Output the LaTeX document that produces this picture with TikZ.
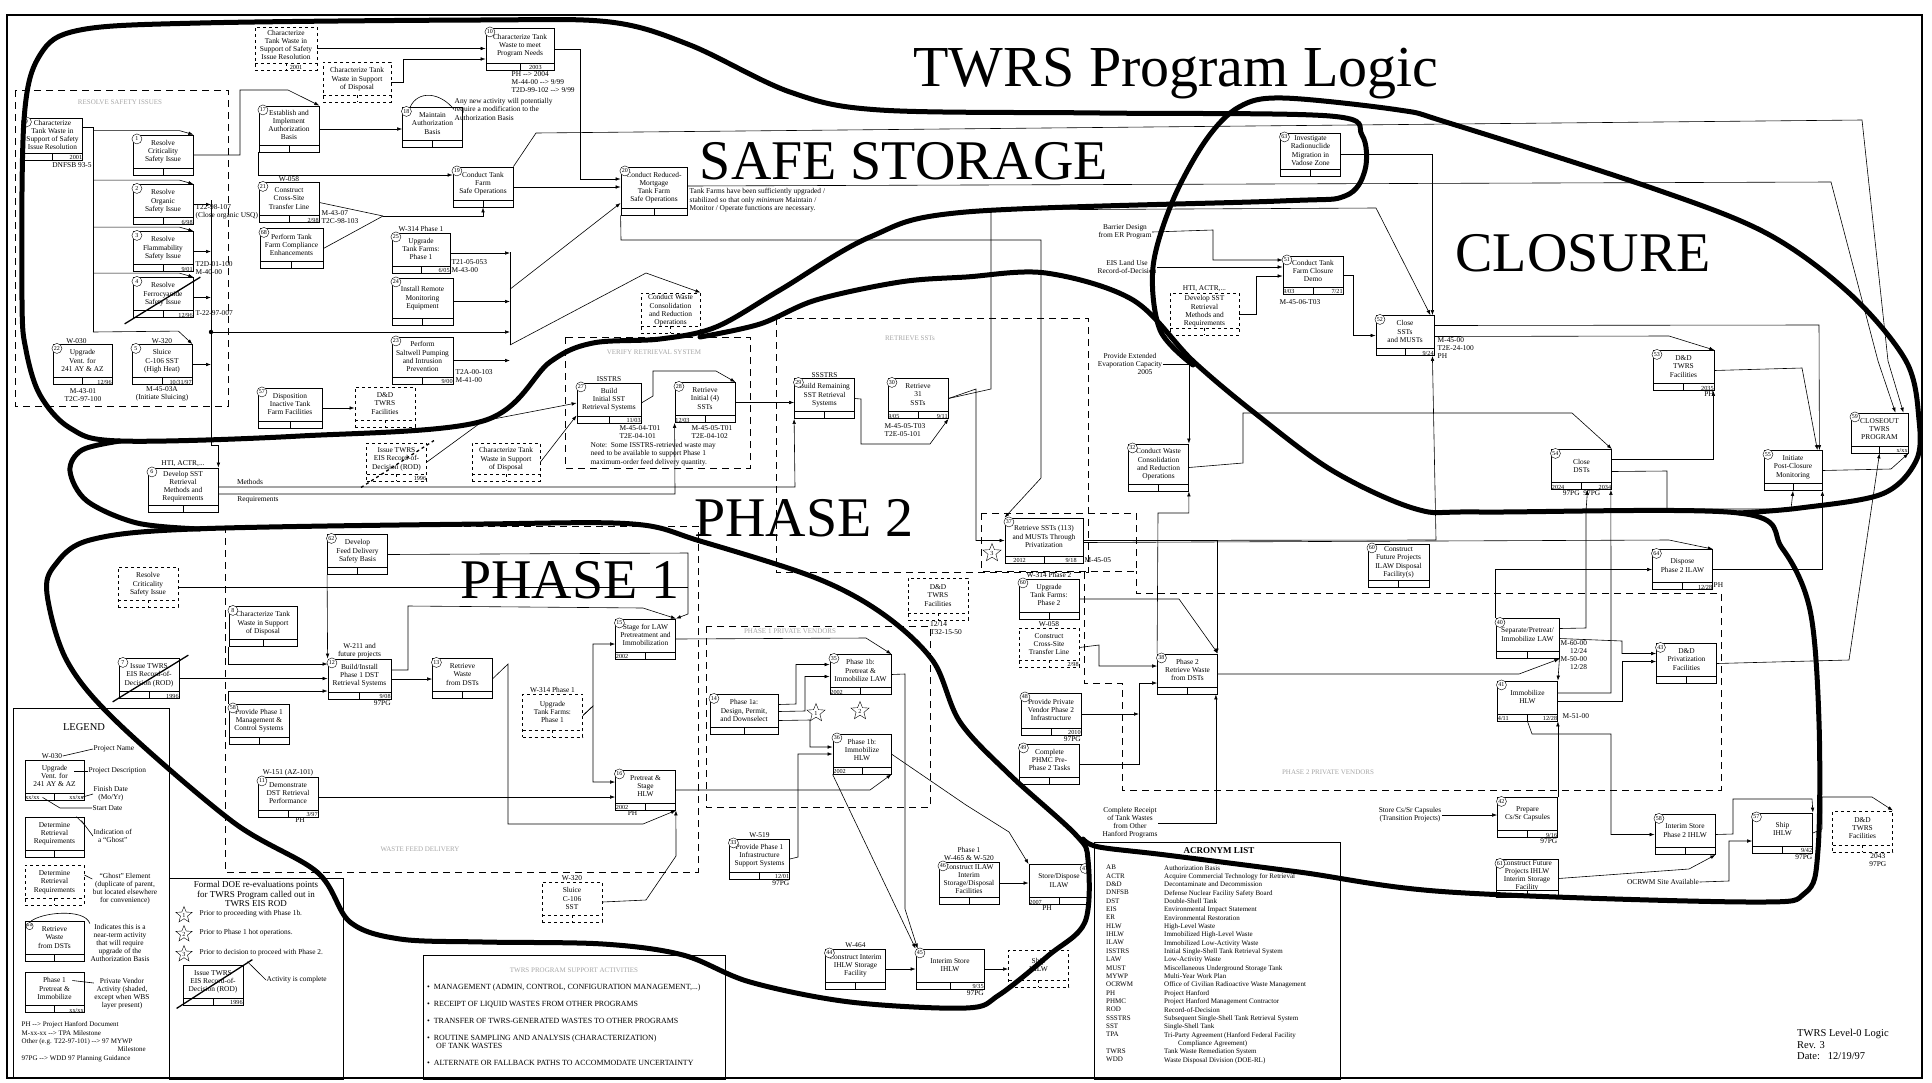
\documentclass[tikz,border=0pt]{standalone}
\usepackage{fontspec}
\setmainfont{Liberation Serif}
\usetikzlibrary{positioning, arrows.meta, shapes.geometric, calc}
\newcommand{\boxfont}{\fontsize{7.4}{8.1}\selectfont}
\newcommand{\smfont}{\fontsize{6.2}{7}\selectfont}
\newcommand{\numfont}{\fontsize{6}{6}\selectfont}
\newcommand{\bigfont}{\fontsize{56}{60}\selectfont}

\begin{document}
\begin{tikzpicture}[
  x=1pt, y=-1pt,
  act/.style={draw, line width=0.8pt, minimum width=60pt, minimum height=40pt, inner sep=0.5pt,
    align=center, font=\boxfont, text depth=8pt,
    path picture={\draw ([yshift=7pt]path picture bounding box.south west) -- ([yshift=7pt]path picture bounding box.south east);
      \draw ([yshift=7pt]path picture bounding box.south) -- (path picture bounding box.south);}},
  ghost/.style={draw, dashed, line width=0.9pt, minimum width=60pt, minimum height=40pt, inner sep=0.5pt,
    align=center, font=\boxfont, text depth=7pt,
    path picture={\draw[dashed] ([yshift=7pt]path picture bounding box.south west) -- ([yshift=7pt]path picture bounding box.south east);
      \draw ([yshift=7pt]path picture bounding box.south) -- (path picture bounding box.south);}},
  num/.style={circle, draw, fill=white, inner sep=0pt, minimum size=10pt, font=\numfont, xshift=8pt, yshift=-8pt},
  dt/.style={font=\smfont, inner sep=0.6pt},
  note/.style={font=\boxfont, align=center, inner sep=0.5pt},
  zone/.style={line width=0.9pt, dash pattern=on 7pt off 5pt},
  faded/.style={text=black!35, font=\fontsize{7}{8}\selectfont},
  outline/.style={line width=5pt, line join=round, line cap=round},
  conn/.style={line width=0.6pt, -{Latex[length=5pt,width=3.6pt]}},
  wire/.style={line width=0.6pt},
  big/.style={font=\bigfont, inner sep=0pt},
  done/.style={line width=1.3pt},
  evstar/.style={star, star points=5, star point ratio=2.3, draw, minimum size=19pt, inner sep=0pt, font=\smfont},
]
\useasboundingbox (0,0) rectangle (1932,1082);
\draw[line width=1.4pt] (7,15) rectangle (1922,1078);

% titles
\node[big, font=\fontsize{58}{60}\selectfont] (title) at (1176,74) {TWRS Program Logic};
\node[big] (lsafe) at (904,161) {SAFE STORAGE};
\node[big] (lclos) at (1583,253) {CLOSURE};
\node[big] (lph2) at (804,518) {PHASE 2};
\node[big] (lph1) at (570,580) {PHASE 1};

% dashed work areas
\draw[zone] (15,90) rectangle (228,406);
\draw[zone] (565,337) rectangle (750,468);
\draw[zone] (776,318) rectangle (1088,572);
\draw[zone] (981,513) rectangle (1136,571);
\draw[zone] (1084,572) -- (1084,683) -- (1122,683) -- (1122,790) -- (1721,790) -- (1721,593) -- (1136,593) -- (1136,571);
\draw[zone] (225,526) rectangle (698,872);
\draw[zone] (706,626) rectangle (930,807);
\node[faded] at (120,102) {RESOLVE SAFETY ISSUES};
\node[faded] at (654,352) {VERIFY RETRIEVAL SYSTEM};
\node[faded] at (910,338) {RETRIEVE SSTs};
\node[faded] at (420,849) {WASTE FEED DELIVERY};
\node[faded] at (790,631) {PHASE 1 PRIVATE VENDORS};
\node[faded] at (1328,772) {PHASE 2 PRIVATE VENDORS};

% safe storage activities
\node[act, minimum height=42pt, label={[num]north west:9}] (s9) at (52.5,139) {Characterize\\Tank Waste in\\Support of Safety\\Issue Resolution};
\node[dt, anchor=south east] at (s9.south east) {2001};
\node[note] at (72,165) {DNFSB 93-5};
\node[ghost, minimum width=62pt, minimum height=43pt] (g1) at (286,48.5) {Characterize\\Tank Waste in\\Support of Safety\\Issue Resolution};
\node[dt, anchor=south] at ([xshift=10pt]g1.south) {2001};
\node[ghost, minimum width=68pt] (g2) at (357,82) {Characterize Tank\\Waste in Support\\of Disposal};
\node[act, minimum width=68pt, minimum height=42pt, label={[num]north west:10}] (s10) at (520,49) {Characterize Tank\\Waste to meet\\Program Needs};
\node[dt, anchor=south east] at ([xshift=-12pt]s10.south east) {2003};
\node[note, anchor=north west, align=left] at (511,71) {PH -{}-> 2004\\M-44-00 -{}-> 9/99\\T2D-99-102 -{}-> 9/99};
\node[act, label={[num]north west:1}] (s1) at (163,155) {Resolve\\Criticality\\Safety Issue};
\node[act, label={[num]north west:2}] (s2) at (163,204.5) {Resolve\\Organic\\Safety Issue};
\node[dt, anchor=south east] at (s2.south east) {6/98};
\node[act, label={[num]north west:3}] (s3) at (163,251.5) {Resolve\\Flammability\\Safety Issue};
\node[dt, anchor=south east] at (s3.south east) {9/01};
\node[act, label={[num]north west:4}] (s4) at (163,297.5) {Resolve\\Ferrocyanide\\Safety Issue};
\node[dt, anchor=south east] at (s4.south east) {12/96};
\node[note, anchor=west, align=left] at (195,212) {T22-98-107\\(Close organic USQ)};
\node[note, anchor=west, align=left] at (195,268) {T2D-01-100\\M-40-00};
\node[note, anchor=west] at (195,313) {T-22-97-007};
\node[act, minimum width=59pt, label={[num]north west:22}] (s22) at (82.5,364.5) {Upgrade\\Vent. for\\241 AY \& AZ};
\node[note, anchor=south] at ([xshift=-6pt]s22.north) {W-030};
\node[dt, anchor=south east] at (s22.south east) {12/96};
\node[note] at (83,395) {M-43-01\\T2C-97-100};
\node[act, label={[num]north west:5}] (s5) at (162,364.5) {Sluice\\C-106 SST\\(High Heat)};
\node[note, anchor=south] at (s5.north) {W-320};
\node[dt, anchor=south east] at (s5.south east) {10/31/97};
\node[note] at (162,394) {M-45-03A\\(Initiate Sluicing)};
\node[act, minimum height=46pt, label={[num]north west:17}] (s17) at (289,129) {Establish and\\Implement\\Authorization\\Basis};
\node[act, label={[num]north west:18}] (s18) at (432.5,127.5) {Maintain\\Authorization\\Basis};
\node[note, anchor=north west, align=left] (anynew) at (454,98) {Any new activity will potentially\\require a modification to the\\Authorization Basis};
\node[act, label={[num]north west:19}] (s19) at (483,187) {Conduct Tank\\Farm\\Safe Operations};
\node[act, label={[num]north west:21}] (s21) at (289,202.5) {Construct\\Cross-Site\\Transfer Line};
\node[note, anchor=south] at (s21.north) {W-058};
\node[dt, anchor=south east] at (s21.south east) {2/98};
\node[note, anchor=west, align=left] at (321,217) {M-43-07\\T2C-98-103};
\node[act, minimum width=63pt, label={[num]north west:68}] (s68) at (291.5,248.5) {Perform Tank\\Farm Compliance\\Enhancements};
\node[act, minimum width=58pt, label={[num]north west:25}] (s25) at (421,253) {Upgrade\\Tank Farms:\\Phase 1};
\node[note, anchor=south] at (s25.north) {W-314 Phase 1};
\node[dt, anchor=south east] at (s25.south east) {6/05};
\node[note, anchor=west, align=left] at (451,266) {T21-05-053\\M-43-00};
\node[act, minimum width=61pt, minimum height=47pt, label={[num]north west:24}] (s24) at (422.5,301.5) {Install Remote\\Monitoring\\Equipment};
\node[act, minimum width=61pt, minimum height=47pt, label={[num]north west:23}] (s23) at (422.5,360.5) {Perform\\Saltwell Pumping\\and Intrusion\\Prevention};
\node[dt, anchor=south east] at (s23.south east) {9/00};
\node[note, anchor=west, align=left] at (455,376) {T2A-00-103\\M-41-00};
\node[act, minimum width=66pt, minimum height=48pt, label={[num]north west:20}] (s20) at (654,191) {Conduct Reduced-\\Mortgage\\Tank Farm\\Safe Operations};
\node[note, anchor=north west, align=left] at (689,188) {Tank Farms have been sufficiently upgraded /\\stabilized so that only \emph{minimum} Maintain /\\Monitor / Operate functions are necessary.};
\node[ghost, minimum width=59pt] (gcw) at (670.5,313) {Conduct Waste\\Consolidation\\and Reduction\\Operations};
\node[act, minimum width=64pt, label={[num]north west:57}] (s57) at (290,408) {Disposition\\Inactive Tank\\Farm Facilities};
\node[ghost] (gdd1) at (385,407) {D\&D\\TWRS\\Facilities};
\node[act, minimum height=43pt, label={[num]north west:63}] (s63) at (1310.5,154.5) {Investigate\\Radionuclide\\Migration in\\Vadose Zone};

% retrieval and closure activities
\node[act, minimum width=70pt, minimum height=44pt, label={[num]north west:6}] (s6) at (183,490) {Develop SST\\Retrieval\\Methods and\\Requirements};
\node[note, anchor=south] at (s6.north) {HTI, ACTR,...};
\node[note] at (250,482) {Methods};
\node[note] at (258,500) {Requirements};
\node[ghost, minimum height=38pt] (gI1) at (396.5,462) {Issue TWRS\\EIS Record-of-\\Decision (ROD)};
\node[dt, anchor=south east] at (gI1.south east) {1996};
\node[ghost, minimum width=68pt, minimum height=38pt] (gc2) at (506,462) {Characterize Tank\\Waste in Support\\of Disposal};
\node[act, minimum width=64pt, label={[num]north west:27}] (s27) at (609,403) {Build\\Initial SST\\Retrieval Systems};
\node[note, anchor=south] at (s27.north) {ISSTRS};
\node[dt, anchor=south east] at (s27.south east) {11/03};
\node[note, align=left] at (640,432) {M-45-04-T01\\T2E-04-101};
\node[act, label={[num]north west:28}] (s28) at (705,402.5) {Retrieve\\Initial (4)\\SSTs};
\node[dt, anchor=south west] at (s28.south west) {12/03};
\node[note, align=left] at (712,432) {M-45-05-T01\\T2E-04-102};
\node[note, anchor=north west, align=left] at (590,442) {Note:\ \ Some ISSTRS-retrieved waste may\\need to be available to support Phase 1\\maximum-order feed delivery quantity.};
\node[act, label={[num]north west:29}] (s29) at (824.5,398.5) {Build Remaining\\SST Retrieval\\Systems};
\node[note, anchor=south] at (s29.north) {SSSTRS};
\node[act, label={[num]north west:30}] (s30) at (918,398.5) {Retrieve\\31\\SSTs};
\node[dt, anchor=south west] at (s30.south west) {9/05};
\node[dt, anchor=south east] at (s30.south east) {9/11};
\node[note, align=left] at (905,430) {M-45-05-T03\\T2E-05-101};
\node[act, minimum height=47pt, label={[num]north west:32}] (s32) at (1158.5,467.5) {Conduct Waste\\Consolidation\\and Reduction\\Operations};
\node[act, minimum width=78pt, minimum height=45pt, label={[num]north west:37}] (s37) at (1044,540.5) {Retrieve SSTs (113)\\and MUSTs Through\\Privatization};
\node[dt, anchor=south west] at ([xshift=8pt]s37.south west) {2012};
\node[dt, anchor=south east] at ([xshift=-6pt]s37.south east) {9/18};
\node[note, anchor=west] at (1084,560) {M-45-05};
\node[act, label={[num]north west:60}] (s60) at (1049,599) {Upgrade\\Tank Farms:\\Phase 2};
\node[note, anchor=south] at (s60.north) {W-314 Phase 2};
\node[ghost, minimum height=39pt] (g58) at (1049,647.5) {Construct\\Cross-Site\\Transfer Line};
\node[note, anchor=south] at (g58.north) {W-058};
\node[dt, anchor=south east] at (g58.south east) {2/98};
\node[act, label={[num]north west:38}] (s38) at (1187.5,674) {Phase 2\\Retrieve Waste\\from DSTs};
\node[act, minimum width=61pt, minimum height=43pt, label={[num]north west:60}] (s62b) at (1398.5,565.5) {Construct\\Future Projects\\ILAW Disposal\\Facility(s)};
\node[act, minimum height=42pt, label={[num]north west:48}] (s48) at (1051,714) {Provide Private\\Vendor Phase 2\\Infrastructure};
\node[dt, anchor=south east] at (s48.south east) {2010};
\node[note, anchor=north east] at (s48.south east) {97PG};
\node[act, label={[num]north west:49}] (s49) at (1049.5,764) {Complete\\PHMC Pre-\\Phase 2 Tasks};
\node[act, label={[num]north west:54}] (s54) at (1581.5,469.5) {Close\\DSTs};
\node[dt, anchor=south west] at (s54.south west) {2024};
\node[dt, anchor=south east] at (s54.south east) {2034};
\node[note, anchor=north] at (s54.south) {97PG\ \ 97PG};
\node[act, minimum width=58pt, label={[num]north west:55}] (s55) at (1793,470.5) {Initiate\\Post-Closure\\Monitoring};
\node[act, minimum width=57pt, label={[num]north west:59}] (s59) at (1879.5,433) {CLOSEOUT\\TWRS\\PROGRAM};
\node[dt, anchor=south east] at (s59.south east) {x/xx};
\node[act, minimum width=61pt, label={[num]north west:53}] (s53) at (1683.5,370.5) {D\&D\\TWRS\\Facilities};
\node[dt, anchor=south east] at (s53.south east) {2035};
\node[note, anchor=north east] at (s53.south east) {PH};
\node[act, minimum width=58pt, label={[num]north west:52}] (s52) at (1405,335.5) {Close\\SSTs\\and MUSTs};
\node[dt, anchor=south east] at (s52.south east) {9/24};
\node[note, anchor=north west, align=left] at (1437,337) {M-45-00\\T2E-24-100\\PH};
\node[act, minimum height=38pt, label={[num]north west:51}] (s51) at (1313,275) {Conduct Tank\\Farm Closure\\Demo};
\node[dt, anchor=south west] at (s51.south west) {9/03};
\node[dt, anchor=south east] at (s51.south east) {7/21};
\node[note] at (1300,302) {M-45-06-T03};
\node[ghost, minimum width=69pt, minimum height=42pt] (ghtl) at (1204.5,314) {Develop SST\\Retrieval\\Methods and\\Requirements};
\node[note, anchor=south] at (ghtl.north) {HTI, ACTR,...};
\node[note] (barrier) at (1125,232) {Barrier Design\\from ER Program};
\node[note] (eisland) at (1127,267) {EIS Land Use\\Record-of-Decision};
\node[note] (evap) at (1130,364) {Provide Extended\\Evaporation Capacity\\\hspace*{30pt}2005};
\node[act, label={[num]north west:64}] (s64) at (1682.5,569.5) {Dispose\\Phase 2 ILAW};
\node[dt, anchor=south east] at (s64.south east) {12/28};
\node[note, anchor=west] at (1713,585) {PH};
\node[act, minimum width=63pt, label={[num]north west:40}] (s40) at (1527.5,638.5) {Separate/Pretreat/\\Immobilize LAW};
\node[note, anchor=north west, align=right] at (1560,640) {M-60-00\\12/24\\M-50-00\\12/28};
\node[act, label={[num]north west:41}] (s41) at (1527.5,701) {Immobilize\\HLW};
\node[dt, anchor=south west] at (s41.south west) {4/11};
\node[dt, anchor=south east] at (s41.south east) {12/28};
\node[note, anchor=west] at (1562,716) {M-51-00};
\node[act, label={[num]north west:43}] (s43) at (1686.5,663.5) {D\&D\\Privatization\\Facilities};

% phase 1 activities
\node[act, label={[num]north west:62}] (s62) at (357.5,554.5) {Develop\\Feed Delivery\\Safety Basis};
\node[ghost] (gcr) at (148,587) {Resolve\\Criticality\\Safety Issue};
\node[act, minimum width=68pt, label={[num]north west:8}] (s8) at (263,626.5) {Characterize Tank\\Waste in Support\\of Disposal};
\node[act, label={[num]north west:7}] (s7) at (149,678.5) {Issue TWRS\\EIS Record-of-\\Decision (ROD)};
\node[dt, anchor=south east] at (s7.south east) {1996};
\node[act, minimum width=63pt, label={[num]north west:12}] (s12) at (359.5,679) {Build/Install\\Phase 1 DST\\Retrieval Systems};
\node[note, anchor=south] at (s12.north) {W-211 and\\future projects};
\node[dt, anchor=south east] at (s12.south east) {9/08};
\node[note, anchor=north east] at (s12.south east) {97PG};
\node[act, label={[num]north west:13}] (s13) at (462.5,678.5) {Retrieve\\Waste\\from DSTs};
\node[act, label={[num]north west:58}] (s58) at (259,724) {Provide Phase 1\\Management \&\\Control Systems};
\node[act, label={[num]north west:11}] (s11) at (288,797) {Demonstrate\\DST Retrieval\\Performance};
\node[note, anchor=south] at (s11.north) {W-151 (AZ-101)};
\node[dt, anchor=south east] at (s11.south east) {3/97};
\node[note, anchor=north] at ([xshift=12pt]s11.south) {PH};
\node[act, label={[num]north west:15}] (s15) at (645.5,639) {Stage for LAW\\Pretreatment and\\Immobilization};
\node[dt, anchor=south west] at (s15.south west) {2002};
\node[ghost, minimum height=43pt] (gU1) at (552.5,715.5) {Upgrade\\Tank Farms:\\Phase 1};
\node[note, anchor=south] at (gU1.north) {W-314 Phase 1};
\node[act, label={[num]north west:16}] (s16) at (645.5,790) {Pretreat \&\\Stage\\HLW};
\node[dt, anchor=south west] at (s16.south west) {2002};
\node[note, anchor=north] at ([xshift=-13pt]s16.south) {PH};
\node[ghost] (gW320) at (572,902) {Sluice\\C-106\\SST};
\node[note, anchor=south] at (gW320.north) {W-320};
\node[act, minimum width=68pt, label={[num]north west:14}] (s14) at (744,714.5) {Phase 1a:\\Design, Permit,\\and Downselect};
\node[act, minimum width=61pt, label={[num]north west:35}] (s35) at (860.5,674.5) {Phase 1b:\\Pretreat \&\\Immobilize LAW};
\node[dt, anchor=south west] at (s35.south west) {2002};
\node[act, minimum width=58pt, label={[num]north west:36}] (s36) at (862,754) {Phase 1b:\\Immobilize\\HLW};
\node[dt, anchor=south west] at (s36.south west) {2002};
\node[evstar] (st1) at (816,713) {1};
\node[evstar] (st2) at (860,711) {2};
\node[evstar] (st3) at (992,553) {3};
\node[ghost, minimum height=42pt] (gdd2) at (938,599) {D\&D\\TWRS\\Facilities};
\node[note, anchor=north, align=left] at ([xshift=8pt]gdd2.south) {12/14\\T32-15-50};
\node[act, label={[num]north west:33}] (s33) at (759.5,859) {Provide Phase 1\\Infrastructure\\Support Systems};
\node[note, anchor=south] at (s33.north) {W-519};
\node[dt, anchor=south east] at (s33.south east) {12/01};
\node[note, anchor=north east] at (s33.south east) {97PG};
\node[act, label={[num]north west:44}] (s44) at (855.5,969) {Construct Interim\\IHLW Storage\\Facility};
\node[note, anchor=south] at (s44.north) {W-464};
\node[act, minimum width=68pt, label={[num]north west:45}] (s45) at (950,969) {Interim Store\\IHLW};
\node[dt, anchor=south east] at (s45.south east) {9/35};
\node[note, anchor=north east] at (s45.south east) {97PG};
\node[act, minimum height=42pt, label={[num]north west:46}] (s46) at (969,883) {Construct ILAW\\Interim\\Storage/Disposal\\Facilities};
\node[note, anchor=south] at (s46.north) {Phase 1\\W-465 \& W-520};
\node[act, label={[num, xshift=-16pt]north east:47}] (s47) at (1059,884.5) {Store/Dispose\\ILAW};
\node[dt, anchor=south west] at (s47.south west) {2007};
\node[note, anchor=north] at ([xshift=-12pt]s47.south) {PH};
\node[ghost, minimum height=37pt] (gship) at (1038.5,968.5) {Ship\\IHLW};
\node[act, label={[num]north west:42}] (s42) at (1527.5,817.5) {Prepare\\Cs/Sr Capsules};
\node[dt, anchor=south east] at (s42.south east) {9/16};
\node[note, anchor=north east] at (s42.south east) {97PG};
\node[act, label={[num]north west:58}] (s58b) at (1685,834.5) {Interim Store\\Phase 2 IHLW};
\node[act, label={[num]north west:57}] (s57b) at (1782.5,833) {Ship\\IHLW};
\node[dt, anchor=south east] at (s57b.south east) {9/42};
\node[note, anchor=north east] at (s57b.south east) {97PG};
\node[ghost, minimum height=41pt] (gdd3) at (1862.5,831.5) {D\&D\\TWRS\\Facilities};
\node[note, anchor=north east] at ([xshift=-6pt]gdd3.south east) {2043\\97PG};
\node[act, minimum width=62pt, minimum height=38pt, text depth=7pt, label={[num]north west:61}] (s61) at (1527,878.5) {Construct Future\\Projects IHLW\\Interim Storage\\Facility};
\node[note] (storecs) at (1410,815) {Store Cs/Sr Capsules\\(Transition Projects)};
\node[note] (ocrwm) at (1663,882) {OCRWM Site Available};
\node[note] (receipt) at (1130,823) {Complete Receipt\\of Tank Wastes\\from Other\\Hanford Programs};
\node[anchor=north west, align=left, font=\fontsize{10.5}{11.6}\selectfont, inner sep=0pt] at (1797,1029) {TWRS Level-0 Logic\\Rev. 3\\Date:\ \ \ 12/19/97};

% completed activities
\draw[done] ($(s4.south west)+(-8,6)$) -- ($(s4.north east)+(7,0)$);
\draw[done] ($(s7.south west)+(-6,3)$) -- ($(s7.north east)+(9,-3)$);
\draw[done, dashed] ($(gI1.south west)+(-5,6)$) -- ($(gI1.north east)+(7,-2)$);

% connectors, safe storage
\coordinate (bus9) at (93,332);
\coordinate (b2top) at (211,200);
\coordinate (bus2) at (211,332);
\coordinate (busR) at (510,252);
\coordinate (busRb) at (510,345);
\coordinate (m21) at (383,216);
\draw[conn] (g1.east) -- (g1.east -| s10.west);
\draw[conn] (g2.east) -- ++(12,0) |- ($(s10.west)+(0,10)$);
\draw[wire] ($(s9.east)+(0,-12)$) -| (bus9);
\draw[conn] ($(bus9 |- s1.north)+(0,-4)$) -- ($(s1.north east)+(-14,-4)$) -- (s1.north east);
\draw[conn] ($(bus9 |- s2.north)+(0,-4)$) -- ($(s2.north east)+(-14,-4)$) -- (s2.north east);
\draw[conn] ($(bus9 |- s3.north)+(0,-4)$) -- ($(s3.north east)+(-14,-4)$) -- (s3.north east);
\draw[conn] ($(bus9 |- s4.north)+(0,-4)$) -- ($(s4.north east)+(-14,-4)$) -- (s4.north east);
\draw[conn] (bus9) -- ($(s5.north east)+(-14,-13)$) -- (s5.north east);
\draw[conn] (b2top) |- ($(s6.north east)+(0,-22)$) -- (s6.north east);
\draw[conn] (s2.east) -- (s2.east -| b2top);
\draw[conn] (s3.east) -- (s3.east -| b2top);
\draw[conn] (s4.east) -- (s4.east -| b2top);
\draw[conn] (s5.east) -- (s5.east -| b2top);
\fill (bus2) circle (2.2pt);
\draw[conn] (bus2) -- (busR |- bus2);
\draw[conn] (s1.east) -| (240,90) -- (288,90) -- (s17.north east);
\draw[conn] (s17.east) -- (s17.east -| s18.west);
\draw[wire] ([xshift=8pt]s18.north west) .. controls (418,90) and (440,92) .. (anynew.west);
\draw[conn] (s17.south west) |- ($(s19.west)+(0,-12)$);
\draw[conn] (s10.east) -- (580,49) |- ($(s20.west)+(0,-12)$);
\draw[conn] (s19.east) -- (s19.east -| s20.west);
\draw[wire] (s21.east) -- (m21);
\draw[wire] (s68.east) -- (m21);
\draw[conn] (m21) -| (s19.south);
\draw[wire] (busR) -- (busRb);
\draw[conn] (s25.east) -- (s25.east -| busR);
\draw[conn] (s24.east) -- (s24.east -| busR);
\draw[conn] (s23.east) -- (s23.east -| busR);
\draw[conn] ($(busR)!0.4!(busRb)$) -- ($(s20.west)+(0,12)$);
\draw[conn] (busRb) -- (646,273) -- (gcw.north east);
\draw[conn] (s57.east) -- (s57.east -| gdd1.west);
\draw[conn] (s19.north east) -- (536,133) -- (1862,120) -- (1888,361) -- ($(s59.north east)+(-5,0)$);
\draw[conn] ($(s20.east)+(0,-5)$) -- (1831,182) -- (1878,361) -- ($(s59.north east)+(-13,0)$);
\draw[conn] (s20.south west) -- (621,240) -- (1041,240) -- (1041,478) -- (s37.north west);
\draw[conn] (s63.east) -| ($(s52.north east)+(-2,0)$);
\draw[conn] (s30.east) -- (991,389) -- (991,210) -- (1376,208) -- ($(s52.north east)+(-4,0)$);
\draw[conn] (s30.east) -- (976,389) |- (s37.west);

% connectors, retrieval and closure
\draw[conn] ($(s6.east)+(0,-3)$) -- (795,487) -- (s29.south west);
\draw[conn] ($(s6.east)+(0,4)$) -- (675,494) -- (s28.south west);
\draw[conn] (gI1.east) -- (483,421) -- (s27.west);
\draw[conn] (gc2.east) -- ($(s27.south west)+(0,-8)$);
\draw[conn] (s27.east) -- (653,396) -- (653,371) -- (716,371) -- (s28.north east);
\draw[conn] (s28.east) -- (s28.east -| s29.west);
\draw[conn] (s29.east) -- (861,399) -- (861,444) -- (930,444) -- (s30.south east);
\draw[conn] (barrier.east) -- (1213,230) |- ($(s51.west)+(0,-15)$);
\draw[conn] (eisland.east) -- ($(s51.west)+(0,-8)$);
\draw[conn] (ghtl.east) -- (1256,314) |- ($(s51.west)+(0,1)$);
\draw[conn] (s51.east) -- (1353,275) |- (s52.west);
\draw[conn] ($(s52.east)+(0,-10)$) -- (1819,325) -- ($(s55.north east)+(-3,0)$);
\draw[conn] ($(s52.east)+(0,1)$) -- (1669,336) -- (s53.north east);
\draw[conn] (s53.east) -- (1802,368) -- ($(s55.north east)+(-5,0)$);
\draw[conn] (s37.east) -- (1436,540) -- ($(s52.south east)+(-2,0)$);
\draw[conn] ($(s37.east)+(0,2)$) -- (1669,540) -- (s64.north east);
\draw[conn] (s37.east) -| ($(s38.north east)+(-1,0)$);
\draw[conn] (evap.east) -| (s32.north east);
\draw[conn] (s38.north west) -- (1158,513) -| (s32.south east);
\draw[conn] (s32.east) -- (1243,463) -- (1243,413) -- (1572,413) -- (s54.north east);
\draw[conn] ($(s54.east)+(0,-10)$) -| ($(s53.south east)+(-1,0)$);
\draw[conn] ($(s54.east)+(0,2)$) -- (1667,471) -- (1667,509) -- (1791,509) -- (s55.south);
\draw[conn] (s55.east) -- (1891,469) -- (s59.south east);
\draw[conn] (s43.east) -- (1849,660) -- (s59.south);
\draw[conn] (s64.east) -| (s55.south east);
\draw[conn] (s40.north west) |- (s64.west);
\draw[conn] ($(s40.east)+(0,-10)$) -- (1586,628) -- (1586,511) -- ($(s54.south)+(6,0)$);
\draw[conn] ($(s41.east)+(0,-8)$) -- (1611,693) -- ($(s54.south east)+(-1,0)$);
\draw[conn] (s40.east) -- (1622,641) |- ($(s43.west)+(0,-10)$);
\draw[conn] (s41.east) -- (1622,701) |- ($(s43.west)+(0,-2)$);
\draw[conn] (s40.south east) -- (s41.north east);
\draw[conn] (s38.east) -- (1519,674) -- (s40.south east);
\draw[conn] (s60.east) -- (1179,599) -- (s38.north east);
\draw[conn] (g58.east) -- (1099,645) |- ($(s38.west)+(0,-8)$);
\coordinate (bus38) at (1139,714);
\draw[conn] (s48.east) -- (bus38);
\draw[conn] (s49.east) -- (1139,764) -- (1139,683) -- ($(s38.west)+(0,9)$);
\draw[conn] (receipt.east) -| ($(s38.south east)+(-2,0)$);

% connectors, phase 1
\coordinate (j15) at (688,584);
\draw[wire] (gcr.east) -- (gcr.east -| j15);
\draw[conn] (s62.east) -- (688,553) -- (688,614) -- (s15.north east);
\draw[conn] (s62.south west) -- (s12.north west);
\draw[conn] (s8.south west) |- ($(s12.west)+(0,-15)$);
\draw[conn] (s7.east) -- (s7.east -| s12.west);
\draw[conn] (s58.north west) |- ($(s12.west)+(0,12)$);
\draw[conn] (s12.east) -- (s12.east -| s13.west);
\draw[conn] ($(s12.east)+(0,-9)$) -- (408,670) -- (408,606) -- (643,608) -- (s15.north east);
\draw[conn] (s13.east) -- (508,664) -- (508,824) -- (643,824) -- (s16.south east);
\draw[conn] (s11.east) -- (s11.east -| s16.west);
\draw[conn] (gU1.east) -- (593,706) |- ($(s15.west)+(0,5)$);
\draw[conn] (gU1.east) -- (593,706) |- ($(s16.west)+(0,-8)$);
\draw[conn] (gW320.east) -- (646,900) -- (676,856) -- (s16.south east);
\draw[conn] (s15.east) -- (866,638) -- (s35.north east);
\draw[conn] (s16.east) -- (870,790) -- (s36.south east);
\draw[conn] ($(s14.east)+(0,-10)$) -- (796,704) |- ($(s35.west)+(0,-10)$);
\draw[conn] ($(s14.east)+(0,-3)$) -- (805,711) |- ($(s35.west)+(0,2)$);
\draw[conn] ($(s14.east)+(0,6)$) -- (810,720) |- ($(s36.west)+(0,-7)$);
\draw[conn] (s33.east) -- (798,857) |- (s36.west);
\draw[conn] (s36.south west) -- (s45.north west);
\draw[conn] (s36.east) -- (966,805) -- (1009,832) -- (s47.north west);
\draw[conn] (s35.east) -- (905,674) -- (905,909) -- ($(s45.north west)+(2,0)$);
\draw[conn] (s44.east) -- (s44.east -| s45.west);
\draw[conn] (s46.east) -- (s46.east -| s47.west);
\draw[conn] (s45.east) -- (s45.east -| gship.west);
\draw[conn] (storecs.east) -- (storecs.east -| s42.west);
\draw[conn] (s42.north east) -- (s41.south east);
\draw[conn] (s41.south) -- (1532,734) -- (1611,734) |- (s58b.west);
\draw[conn] (s61.east) -- (1689,869) -- (s58b.south east);
\draw[conn] (s58b.east) -- (1733,834) -- (1733,799) -- (1812,799) -- (s57b.north east);
\draw[conn] (s57b.east) -- (1822,829) -- (1822,797) -- (1872,797) -- (gdd3.north east);
\draw[conn] (ocrwm.east) -- (1729,881) |- ($(s57b.west)+(0,8)$);

% legend
\node[draw, line width=0.8pt, minimum width=156pt, minimum height=370pt] (legend) at (91,893) {};
\node[font=\fontsize{10.5}{12}\selectfont] (legtitle) at (84,727) {LEGEND};
\node[note] (legw) at (52,756) {W-030};
\node[note, anchor=west] (legpn) at (93,749) {Project Name};
\draw[wire] (legw.east) -- (legpn.west);
\node[act, minimum width=59pt] (lg1) at (54.5,780) {Upgrade\\Vent. for\\241 AY \& AZ};
\node[dt, anchor=south west] at (lg1.south west) {xx/xx};
\node[dt, anchor=south east] at (lg1.south east) {xx/xx};
\node[note, anchor=west] (legpd) at (88,771) {Project Description};
\draw[wire] ($(lg1.east)+(-10,-9)$) -- (legpd.west);
\node[note, anchor=west] (legfd) at (93,794) {Finish Date\\(Mo/Yr)};
\draw[wire] ($(lg1.south east)+(-3,-3)$) -- (legfd.west);
\node[note, anchor=west] (legsd) at (92,808) {Start Date};
\draw[wire] ($(lg1.south west)+(18,-3)$) -- (60,808) -- (legsd.west);
\node[act, minimum width=59pt] (lg2) at (54.5,837) {Determine\\Retrieval\\Requirements};
\draw[wire] ($(lg2.north east)+(-8,0)$) -- ($(lg2.north east)+(0,8)$);
\node[note, anchor=west] (legghost) at (93,836) {Indication of\\a ``Ghost''};
\draw[wire] ($(lg2.north east)+(-3,4)$) -- (legghost.west);
\node[ghost, minimum width=59pt] (lg3) at (54.5,885) {Determine\\Retrieval\\Requirements};
\node[note] (legge) at (125,889) {``Ghost'' Element\\(duplicate of parent,\\but located elsewhere\\for convenience)};
\draw[wire] ($(lg3.east)+(0,-10)$) -- ($(legge.west)+(0,-10)$);
\node[act, minimum width=59pt] (lg4) at (54.5,941.5) {Retrieve\\Waste\\from DSTs};
\node[circle, draw, inner sep=0pt, minimum size=7pt, font=\numfont] (legst) at ($(lg4.north west)+(5,5)$) {**};
\node[note] (legnt) at (120,943) {Indicates this is a\\near-term activity\\that will require\\upgrade of the\\Authorization Basis};
\draw[wire] (legst.north) .. controls (40,912) and (85,908) .. (legnt.north west);
\node[act, minimum width=59pt] (lg5) at (54.5,992.5) {Phase 1\\Pretreat \&\\Immobilize};
\node[dt, anchor=south east] at (lg5.south east) {xx/xx};
\node[note] (legpv) at (122,994) {Private Vendor\\Activity (shaded,\\except when WBS\\layer present)};
\draw[wire] ($(lg5.east)+(-12,-12)$) -- ($(legpv.west)+(0,-11)$);
\node[note, anchor=north west, align=left, font=\fontsize{7}{8.4}\selectfont] (legabb) at (21,1021) {PH -{}-> Project Hanford Document\\M-xx-xx -{}-> TPA Milestone\\Other (e.g. T22-97-101) -{}-> 97 MYWP\\\hspace*{96pt}Milestone\\97PG -{}-> WDD 97 Planning Guidance};

% DOE re-evaluation points
\node[draw, line width=0.8pt, minimum width=174pt, minimum height=201pt] (doe) at (256,978.5) {};
\node[anchor=north, align=center, font=\fontsize{9}{9.7}\selectfont, inner sep=0pt] (doetitle) at (256,881) {Formal DOE re-evaluations points\\for TWRS Program called out in\\TWRS EIS ROD};
\node[evstar, minimum size=17pt] (dst1) at (184,915) {1};
\node[evstar, minimum size=17pt] (dst2) at (184,934) {2};
\node[evstar, minimum size=17pt] (dst3) at (184,954) {3};
\node[note, anchor=west] at (199,914) {Prior to proceeding with Phase 1b.};
\node[note, anchor=west] at (199,933) {Prior to Phase 1 hot operations.};
\node[note, anchor=west] at (199,953) {Prior to decision to proceed with Phase 2.};
\node[act] (doeex) at (213,985) {Issue TWRS\\EIS Record-of-\\Decision (ROD)};
\node[dt, anchor=south east] at (doeex.south east) {1996};
\draw[done] ($(doeex.south west)+(-6,3)$) -- ($(doeex.north east)+(9,-5)$);
\node[note, anchor=west] (doecomp) at (266,980) {Activity is complete};
\draw[wire] ($(doeex.north east)+(4,-3)$) -- (doecomp.west);

% support activities
\node[draw, line width=0.8pt, minimum width=302pt, minimum height=124pt] (support) at (574,1017) {};
\node[faded] at (574,970) {TWRS PROGRAM SUPPORT ACTIVITIES};
\node[anchor=west, font=\fontsize{7.9}{9}\selectfont, inner sep=0pt] at (427,988) {\textbullet\enspace MANAGEMENT (ADMIN, CONTROL, CONFIGURATION MANAGEMENT,...)};
\node[anchor=west, font=\fontsize{7.9}{9}\selectfont, inner sep=0pt] at (427,1005) {\textbullet\enspace RECEIPT OF LIQUID WASTES FROM OTHER PROGRAMS};
\node[anchor=west, font=\fontsize{7.9}{9}\selectfont, inner sep=0pt] at (427,1021) {\textbullet\enspace TRANSFER OF TWRS-GENERATED WASTES TO OTHER PROGRAMS};
\node[anchor=west, align=left, font=\fontsize{7.9}{8.6}\selectfont, inner sep=0pt] at (427,1042) {\textbullet\enspace ROUTINE SAMPLING AND ANALYSIS (CHARACTERIZATION)\\\hspace*{9pt}OF TANK WASTES};
\node[anchor=west, font=\fontsize{7.9}{9}\selectfont, inner sep=0pt] at (427,1063) {\textbullet\enspace ALTERNATE OR FALLBACK PATHS TO ACCOMMODATE UNCERTAINTY};

% acronym list
\node[draw, line width=0.8pt, minimum width=246pt, minimum height=237pt] (acro) at (1217,960.5) {};
\node[font=\bfseries\fontsize{9}{10}\selectfont] at (1219,851) {ACRONYM LIST};
\node[anchor=north west, align=left, font=\fontsize{7}{8.35}\selectfont, inner sep=0pt] (acab) at (1106,865) {AB\\ACTR\\D\&D\\DNFSB\\DST\\EIS\\ER\\HLW\\IHLW\\ILAW\\ISSTRS\\LAW\\MUST\\MYWP\\OCRWM\\PH\\PHMC\\ROD\\SSSTRS\\SST\\TPA\\[8.35pt]TWRS\\WDD};
\node[anchor=north west, align=left, font=\fontsize{7}{8.35}\selectfont, inner sep=0pt] (acdesc) at (1164,865) {Authorization Basis\\Acquire Commercial Technology for Retrieval\\Decontaminate and Decommission\\Defense Nuclear Facility Safety Board\\Double-Shell Tank\\Environmental Impact Statement\\Environmental Restoration\\High-Level Waste\\Immobilized High-Level Waste\\Immobilized Low-Activity Waste\\Initial Single-Shell Tank Retrieval System\\Low-Activity Waste\\Miscellaneous Underground Storage Tank\\Multi-Year Work Plan\\Office of Civilian Radioactive Waste Management\\Project Hanford\\Project Hanford Management Contractor\\Record-of-Decision\\Subsequent Single-Shell Tank Retrieval System\\Single-Shell Tank\\Tri-Party Agreement (Hanford Federal Facility\\\hspace*{14pt}Compliance Agreement)\\Tank Waste Remediation System\\Waste Disposal Division (DOE-RL)};

% hand drawn program phase outlines
\draw[outline] plot[smooth cycle, tension=0.55] coordinates {(22,300) (24,120) (40,55) (80,30) (200,23) (480,20) (610,22) (690,45) (790,92) (880,110) (1100,113) (1330,116) (1362,135) (1365,170) (1345,196) (1280,201) (966,212) (870,237) (780,290) (716,327) (660,339) (593,343) (550,362) (483,421) (300,436) (120,441) (70,428) (40,395) (26,350)};
\draw[outline] plot[smooth, tension=0.55] coordinates {(120,441) (82,450) (70,471) (87,501) (137,523) (200,529)};
\draw[outline] plot[smooth, tension=0.55] coordinates {(700,337) (760,324) (816,300) (900,282) (966,277) (1046,273) (1133,300) (1193,361) (1256,414) (1333,471) (1416,509) (1480,512) (1739,513) (1782,548) (1810,610) (1819,722) (1818,850) (1805,893) (1749,902) (1449,892) (1299,872) (1166,855) (1099,847) (1083,839)};
\draw[outline] plot[smooth cycle, tension=0.55] coordinates {(193,529) (483,524) (633,524) (700,541) (816,578) (883,614) (933,661) (960,722) (1010,775) (1076,835) (1088,860) (1085,922) (1049,955) (999,995) (966,1008) (850,1002) (750,982) (683,955) (603,944) (483,942) (400,939) (350,922) (317,872) (233,822) (117,722) (67,661) (47,594) (55,565) (90,540)};
\draw[outline] plot[smooth, tension=0.55] coordinates {(1193,365) (1160,330) (1153,267) (1173,200) (1206,140) (1239,107) (1283,98) (1399,110) (1449,123) (1649,187) (1766,233) (1849,293) (1906,361) (1919,420) (1916,461) (1882,494) (1800,508) (1739,513)};
\end{tikzpicture}
\end{document}
